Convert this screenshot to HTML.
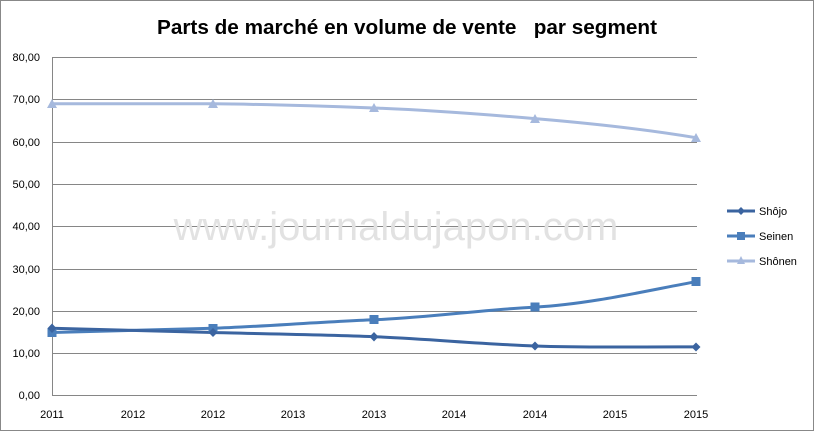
<!DOCTYPE html>
<html><head><meta charset="utf-8"><style>
body{margin:0;background:#fff}
svg text{font-family:"Liberation Sans",sans-serif}
</style></head><body>
<svg width="814" height="431" xmlns="http://www.w3.org/2000/svg">
<rect x="0.5" y="0.5" width="813" height="430" fill="#fff" stroke="#888"/>
<text x="157" y="34" font-size="20" font-weight="bold" fill="#000" textLength="500" lengthAdjust="spacingAndGlyphs" xml:space="preserve">Parts de marché en volume de vente   par segment</text>
<g stroke="#868686" stroke-width="1">
<line x1="52" y1="57.5" x2="697" y2="57.5"/>
<line x1="52" y1="99.5" x2="697" y2="99.5"/>
<line x1="52" y1="142.5" x2="697" y2="142.5"/>
<line x1="52" y1="184.5" x2="697" y2="184.5"/>
<line x1="52" y1="226.5" x2="697" y2="226.5"/>
<line x1="52" y1="269.5" x2="697" y2="269.5"/>
<line x1="52" y1="311.5" x2="697" y2="311.5"/>
<line x1="52" y1="353.5" x2="697" y2="353.5"/>
<line x1="52" y1="395.5" x2="697" y2="395.5"/>
<line x1="52.5" y1="57" x2="52.5" y2="396"/>
</g>
<g font-size="11" fill="#000" text-anchor="end">
<text x="40" y="61">80,00</text><text x="40" y="103">70,00</text><text x="40" y="146">60,00</text>
<text x="40" y="188">50,00</text><text x="40" y="230">40,00</text><text x="40" y="273">30,00</text>
<text x="40" y="315">20,00</text><text x="40" y="357">10,00</text><text x="40" y="399">0,00</text>
</g>
<g font-size="11" fill="#000" text-anchor="middle">
<text x="52" y="418">2011</text><text x="133" y="418">2012</text><text x="213" y="418">2012</text>
<text x="293" y="418">2013</text><text x="374" y="418">2013</text><text x="454" y="418">2014</text>
<text x="535" y="418">2014</text><text x="615" y="418">2015</text><text x="696" y="418">2015</text>
</g>
<text x="396" y="240" text-anchor="middle" font-size="40" fill="#e2e2e2">www.journaldujapon.com</text>
<path d="M52,103.8 C130,103.5 180,103.5 213,103.8 S320,106 374,108 S480,114 535,118.6 S650,130 696,137.7" fill="none" stroke="#a6b9dd" stroke-width="3"/>
<path d="M52,332.5 C130,330 180,329 213,328.2 S320,322 374,319.8 S480,310 535,307.1 S650,290 696,281.7" fill="none" stroke="#4a7ebb" stroke-width="3"/>
<path d="M52,328.2 C130,330.5 180,331.5 213,332.5 S320,334.5 374,336.7 S480,344 535,346 S650,346.5 696,346.9" fill="none" stroke="#3b64a0" stroke-width="3"/>
<g fill="#a6b9dd">
<polygon points="52,99 47,108 57,108"/><polygon points="213,99 208,108 218,108"/><polygon points="374,103 369,112 379,112"/><polygon points="535,114 530,123 540,123"/><polygon points="696,133 691,142 701,142"/>
</g>
<g fill="#4a7ebb">
<rect x="47.5" y="328" width="9" height="9"/><rect x="208.5" y="324" width="9" height="9"/><rect x="369.5" y="315" width="9" height="9"/><rect x="530.5" y="302.5" width="9" height="9"/><rect x="691.5" y="277" width="9" height="9"/>
</g>
<g fill="#3b64a0">
<polygon points="52,323.5 56.5,328.2 52,333 47.5,328.2"/><polygon points="213,328 217.5,332.5 213,337 208.5,332.5"/><polygon points="374,332 378.5,336.7 374,341.5 369.5,336.7"/><polygon points="535,341.5 539.5,346 535,350.5 530.5,346"/><polygon points="696,342.5 700.5,347 696,351.5 691.5,347"/>
</g>
<line x1="727" y1="211" x2="755" y2="211" stroke="#3b64a0" stroke-width="3"/>
<polygon points="741,207 745,211 741,215 737,211" fill="#3b64a0"/>
<text x="759" y="215" font-size="11">Shôjo</text>
<line x1="727" y1="236" x2="755" y2="236" stroke="#4a7ebb" stroke-width="3"/>
<rect x="737" y="232" width="8" height="8" fill="#4a7ebb"/>
<text x="759" y="240" font-size="11">Seinen</text>
<line x1="727" y1="261" x2="755" y2="261" stroke="#a6b9dd" stroke-width="3"/>
<polygon points="741,256 737,264 745,264" fill="#a6b9dd"/>
<text x="759" y="265" font-size="11">Shônen</text>
</svg>
</body></html>
